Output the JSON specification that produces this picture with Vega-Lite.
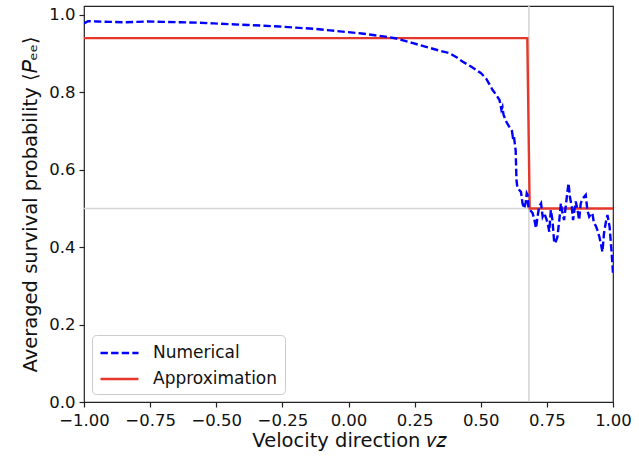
{
  "$schema": "https://vega.github.io/schema/vega-lite/v6.json",
  "width": 529,
  "height": 396,
  "autosize": "none",
  "padding": {"left": 84, "top": 6, "right": 26, "bottom": 55},
  "background": "white",
  "config": {
    "font": "DejaVu Sans",
    "view": {"stroke": "#222222", "strokeWidth": 1.2},
    "axis": {
      "domain": false,
      "grid": false,
      "tickColor": "#222222",
      "tickSize": 5,
      "tickWidth": 1.2,
      "labelFlush": false,
      "labelOverlap": false,
      "labelFont": "DejaVu Sans",
      "labelFontSize": 16.5,
      "labelColor": "#111111",
      "titleFont": "DejaVu Sans",
      "titleFontSize": 19.5,
      "titleFontWeight": "normal",
      "titleColor": "#111111"
    }
  },
  "datasets": {
    "numerical": [
      {"vz": -1.0, "P": 0.978}, {"vz": -0.985, "P": 0.984}, {"vz": -0.95, "P": 0.983},
      {"vz": -0.9, "P": 0.982}, {"vz": -0.85, "P": 0.981}, {"vz": -0.8, "P": 0.982},
      {"vz": -0.76, "P": 0.983}, {"vz": -0.7, "P": 0.982}, {"vz": -0.635, "P": 0.981},
      {"vz": -0.57, "P": 0.98}, {"vz": -0.51, "P": 0.978}, {"vz": -0.45, "P": 0.976},
      {"vz": -0.38, "P": 0.974}, {"vz": -0.32, "P": 0.972}, {"vz": -0.26, "P": 0.97},
      {"vz": -0.2, "P": 0.967}, {"vz": -0.13, "P": 0.964}, {"vz": -0.07, "P": 0.96},
      {"vz": -0.01, "P": 0.956}, {"vz": 0.05, "P": 0.952}, {"vz": 0.093, "P": 0.948},
      {"vz": 0.14, "P": 0.944}, {"vz": 0.181, "P": 0.939}, {"vz": 0.244, "P": 0.927},
      {"vz": 0.29, "P": 0.918}, {"vz": 0.332, "P": 0.91}, {"vz": 0.382, "P": 0.901},
      {"vz": 0.41, "P": 0.89}, {"vz": 0.432, "P": 0.879}, {"vz": 0.46, "P": 0.868},
      {"vz": 0.483, "P": 0.858}, {"vz": 0.5, "P": 0.85}, {"vz": 0.52, "P": 0.836},
      {"vz": 0.535, "P": 0.818}, {"vz": 0.545, "P": 0.806}, {"vz": 0.56, "P": 0.792},
      {"vz": 0.571, "P": 0.78}, {"vz": 0.574, "P": 0.77}, {"vz": 0.578, "P": 0.755},
      {"vz": 0.582, "P": 0.762}, {"vz": 0.586, "P": 0.742}, {"vz": 0.598, "P": 0.722},
      {"vz": 0.608, "P": 0.711}, {"vz": 0.618, "P": 0.7}, {"vz": 0.621, "P": 0.686},
      {"vz": 0.625, "P": 0.69}, {"vz": 0.627, "P": 0.677}, {"vz": 0.632, "P": 0.65},
      {"vz": 0.634, "P": 0.6}, {"vz": 0.635, "P": 0.574}, {"vz": 0.638, "P": 0.556},
      {"vz": 0.645, "P": 0.548}, {"vz": 0.652, "P": 0.543}, {"vz": 0.658, "P": 0.513},
      {"vz": 0.664, "P": 0.5}, {"vz": 0.67, "P": 0.515}, {"vz": 0.674, "P": 0.539},
      {"vz": 0.677, "P": 0.535}, {"vz": 0.68, "P": 0.505}, {"vz": 0.684, "P": 0.498},
      {"vz": 0.696, "P": 0.488}, {"vz": 0.703, "P": 0.47}, {"vz": 0.709, "P": 0.449},
      {"vz": 0.715, "P": 0.48}, {"vz": 0.721, "P": 0.505}, {"vz": 0.728, "P": 0.513},
      {"vz": 0.734, "P": 0.479}, {"vz": 0.74, "P": 0.488}, {"vz": 0.747, "P": 0.475},
      {"vz": 0.753, "P": 0.462}, {"vz": 0.759, "P": 0.44}, {"vz": 0.765, "P": 0.496},
      {"vz": 0.771, "P": 0.47}, {"vz": 0.778, "P": 0.41}, {"vz": 0.784, "P": 0.415},
      {"vz": 0.79, "P": 0.427}, {"vz": 0.797, "P": 0.47}, {"vz": 0.803, "P": 0.513},
      {"vz": 0.809, "P": 0.488}, {"vz": 0.815, "P": 0.47}, {"vz": 0.822, "P": 0.509},
      {"vz": 0.827, "P": 0.54}, {"vz": 0.832, "P": 0.565}, {"vz": 0.837, "P": 0.53},
      {"vz": 0.844, "P": 0.505}, {"vz": 0.849, "P": 0.47}, {"vz": 0.854, "P": 0.495},
      {"vz": 0.859, "P": 0.518}, {"vz": 0.866, "P": 0.496}, {"vz": 0.872, "P": 0.47},
      {"vz": 0.878, "P": 0.513}, {"vz": 0.885, "P": 0.525}, {"vz": 0.891, "P": 0.53},
      {"vz": 0.897, "P": 0.535}, {"vz": 0.903, "P": 0.496}, {"vz": 0.91, "P": 0.479},
      {"vz": 0.916, "P": 0.485}, {"vz": 0.922, "P": 0.488}, {"vz": 0.928, "P": 0.462},
      {"vz": 0.935, "P": 0.455}, {"vz": 0.941, "P": 0.444}, {"vz": 0.948, "P": 0.428},
      {"vz": 0.954, "P": 0.41}, {"vz": 0.96, "P": 0.388}, {"vz": 0.966, "P": 0.436},
      {"vz": 0.973, "P": 0.465}, {"vz": 0.979, "P": 0.483}, {"vz": 0.987, "P": 0.453},
      {"vz": 0.995, "P": 0.384}, {"vz": 1.0, "P": 0.333}
    ],
    "approx": [
      {"vz": -1.0, "P": 0.94}, {"vz": 0.676, "P": 0.94},
      {"vz": 0.685, "P": 0.5}, {"vz": 1.0, "P": 0.5}
    ]
  },
  "layer": [
    {
      "data": {"values": [{"vz": 0.682}]},
      "mark": {"type": "rule", "color": "#d6d6d6", "strokeWidth": 1.6},
      "encoding": {"x": {"field": "vz", "type": "quantitative"}}
    },
    {
      "data": {"values": [{"P": 0.5}]},
      "mark": {"type": "rule", "color": "#d6d6d6", "strokeWidth": 1.6},
      "encoding": {"y": {"field": "P", "type": "quantitative"}}
    },
    {
      "data": {"name": "approx"},
      "transform": [{"calculate": "'Approximation'", "as": "series"}],
      "mark": {"type": "line", "strokeWidth": 2.4, "clip": true},
      "encoding": {
        "x": {"field": "vz", "type": "quantitative"},
        "y": {"field": "P", "type": "quantitative"},
        "color": {"field": "series", "type": "nominal"},
        "strokeDash": {"field": "series", "type": "nominal"}
      }
    },
    {
      "data": {"name": "numerical"},
      "transform": [{"calculate": "'Numerical'", "as": "series"}],
      "mark": {"type": "line", "strokeWidth": 2.4, "clip": true},
      "encoding": {
        "x": {
          "field": "vz", "type": "quantitative",
          "scale": {"domain": [-1, 1], "nice": false, "zero": false},
          "axis": {
            "values": [-1, -0.75, -0.5, -0.25, 0, 0.25, 0.5, 0.75, 1],
            "format": ".2f",
            "labelPadding": 5,
            "titlePadding": 3,
            "title": "Velocity direction  𝑣𝑧"
          }
        },
        "y": {
          "field": "P", "type": "quantitative",
          "scale": {"domain": [0, 1.023], "nice": false, "zero": false},
          "axis": {
            "values": [0, 0.2, 0.4, 0.6, 0.8, 1.0],
            "format": ".1f",
            "labelPadding": 4,
            "titlePadding": 8,
            "title": "Averaged survival probability ⟨𝑃ₑₑ⟩"
          }
        },
        "color": {
          "field": "series", "type": "nominal",
          "scale": {"domain": ["Numerical", "Approximation"], "range": ["#0000ff", "#e3382b"]},
          "legend": {
            "title": null,
            "orient": "none",
            "legendX": 8,
            "legendY": 329,
            "direction": "vertical",
            "symbolType": "M-1,0L3,0",
            "symbolSize": 361,
            "symbolStrokeWidth": 2.4,
            "labelFont": "DejaVu Sans",
            "labelFontSize": 17,
            "labelColor": "#111111",
            "labelOffset": 32,
            "rowPadding": 7,
            "padding": 7,
            "fillColor": "rgba(255,255,255,0.8)",
            "strokeColor": "#cccccc",
            "cornerRadius": 4
          }
        },
        "strokeDash": {
          "field": "series", "type": "nominal",
          "scale": {"domain": ["Numerical", "Approximation"], "range": [[7.4, 3.2], [1, 0]]},
          "legend": null
        }
      }
    }
  ],
  "resolve": {"legend": {"strokeDash": "shared"}}
}
